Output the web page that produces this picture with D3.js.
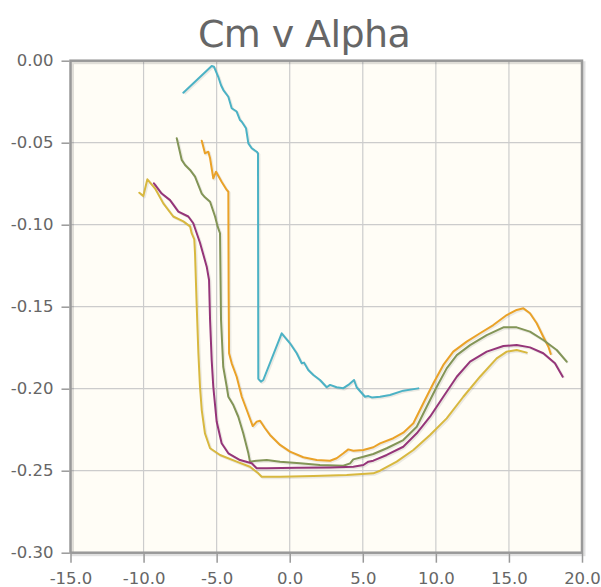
<!DOCTYPE html>
<html>
<head>
<meta charset="utf-8">
<script src="https://cdn.jsdelivr.net/npm/d3@7"></script>
<style>
  html, body { margin: 0; padding: 0; background: #ffffff; }
  svg { display: block; }
</style>
</head>
<body>
<svg id="chart" width="601" height="587"></svg>
<script>
// ---- data (alpha, Cm) ----
const title = "Cm v Alpha";
const xTicks = [-15, -10, -5, 0, 5, 10, 15, 20];
const yTicks = [0.00, -0.05, -0.10, -0.15, -0.20, -0.25, -0.30];
const seriesColors = ["#4bb2c5", "#eaa228", "#839557", "#953579", "#d8b83f"];

const cyan = [
  [-7.28,-0.0195],[-5.34,-0.0032],[-5.18,-0.0037],[-4.89,-0.0098],[-4.70,-0.0150],
  [-4.54,-0.0179],[-4.20,-0.0220],[-3.97,-0.0290],[-3.63,-0.0310],[-3.40,-0.0362],
  [-3.28,-0.0372],[-2.99,-0.0412],[-2.83,-0.0504],[-2.60,-0.0534],[-2.26,-0.0555],
  [-2.17,-0.0565],[-2.15,-0.1940],[-1.97,-0.1957],[-1.81,-0.1947],[-0.55,-0.1662],
  [0.02,-0.1723],[0.48,-0.1784],[0.82,-0.1845],[0.98,-0.1841],[1.27,-0.1886],
  [1.62,-0.1916],[2.07,-0.1947],[2.53,-0.1991],[2.76,-0.1977],[3.21,-0.1991],
  [3.67,-0.1997],[4.01,-0.1977],[4.40,-0.1947],[4.58,-0.1991],[5.15,-0.2049],
  [5.38,-0.2045],[5.61,-0.2053],[6.18,-0.2049],[6.86,-0.2038],[7.77,-0.2012],
  [8.80,-0.1998]
];
const orange = [
  [-6.02,-0.0488],[-5.80,-0.0565],[-5.57,-0.0555],[-5.45,-0.0595],[-5.23,-0.0717],
  [-5.04,-0.0677],[-4.66,-0.0738],[-4.31,-0.0788],[-4.20,-0.0799],[-4.18,-0.1400],
  [-4.15,-0.1784],[-3.97,-0.1845],[-3.63,-0.1927],[-3.28,-0.2049],[-2.94,-0.2130],
  [-2.53,-0.2228],[-2.26,-0.2201],[-2.03,-0.2195],[-1.69,-0.2241],[-1.35,-0.2282],
  [-0.66,-0.2343],[0.02,-0.2384],[0.93,-0.2418],[1.85,-0.2435],[2.76,-0.2439],
  [3.21,-0.2424],[3.67,-0.2394],[4.01,-0.2370],[4.35,-0.2378],[5.04,-0.2374],
  [5.72,-0.2357],[6.18,-0.2333],[7.09,-0.2302],[7.77,-0.2268],[8.46,-0.2211],
  [9.14,-0.2089],[9.83,-0.1967],[10.51,-0.1855],[11.19,-0.1774],[12.11,-0.1713],
  [13.02,-0.1662],[13.93,-0.1612],[14.85,-0.1551],[15.53,-0.1520],[15.99,-0.1510],
  [16.44,-0.1540],[16.90,-0.1601],[17.35,-0.1683],[17.70,-0.1744],[17.86,-0.1788]
];
const olive = [
  [-7.73,-0.0473],[-7.39,-0.0605],[-7.16,-0.0636],[-6.82,-0.0666],[-6.48,-0.0707],
  [-6.02,-0.0810],[-5.80,-0.0833],[-5.45,-0.0860],[-5.11,-0.0950],[-4.93,-0.1012],
  [-4.77,-0.1052],[-4.70,-0.1581],[-4.55,-0.1866],[-4.31,-0.1988],[-4.20,-0.2049],
  [-3.86,-0.2100],[-3.52,-0.2171],[-3.18,-0.2272],[-2.83,-0.2394],[-2.72,-0.2445],
  [-2.26,-0.2439],[-1.57,-0.2435],[-0.66,-0.2445],[0.71,-0.2455],[2.07,-0.2465],
  [3.67,-0.2470],[4.13,-0.2455],[4.35,-0.2431],[5.04,-0.2415],[5.72,-0.2398],
  [6.64,-0.2363],[7.77,-0.2313],[8.69,-0.2232],[9.37,-0.2110],[10.06,-0.1988],
  [10.74,-0.1876],[11.43,-0.1795],[12.34,-0.1734],[13.48,-0.1673],[14.62,-0.1626],
  [15.53,-0.1626],[16.44,-0.1652],[17.35,-0.1703],[18.27,-0.1764],[18.95,-0.1835]
];
const purple = [
  [-9.29,-0.0748],[-8.76,-0.0810],[-8.19,-0.0850],[-7.62,-0.0920],[-6.94,-0.0950],
  [-6.60,-0.0991],[-6.14,-0.1110],[-5.68,-0.1256],[-5.52,-0.1337],[-5.45,-0.1581],
  [-5.34,-0.1825],[-5.23,-0.1988],[-5.00,-0.2200],[-4.66,-0.2333],[-4.20,-0.2394],
  [-3.40,-0.2435],[-2.60,-0.2455],[-2.26,-0.2485],[-1.57,-0.2485],[0.48,-0.2482],
  [2.76,-0.2480],[4.35,-0.2476],[5.04,-0.2465],[5.38,-0.2445],[5.72,-0.2439],
  [6.64,-0.2404],[7.77,-0.2354],[8.69,-0.2272],[9.60,-0.2171],[10.51,-0.2049],
  [11.43,-0.1927],[12.34,-0.1835],[13.48,-0.1774],[14.62,-0.1740],[15.53,-0.1734],
  [16.44,-0.1748],[17.35,-0.1784],[18.15,-0.1845],[18.68,-0.1927]
];
const yellow = [
  [-10.29,-0.0805],[-10.02,-0.0825],[-9.74,-0.0723],[-9.22,-0.0778],[-8.65,-0.0870],
  [-7.97,-0.0950],[-7.28,-0.0980],[-6.82,-0.1010],[-6.71,-0.1052],[-6.53,-0.1090],
  [-6.48,-0.1174],[-6.37,-0.1480],[-6.25,-0.1784],[-6.14,-0.1988],[-6.02,-0.2130],
  [-5.80,-0.2272],[-5.45,-0.2363],[-4.77,-0.2404],[-3.63,-0.2445],[-2.72,-0.2476],
  [-2.15,-0.2516],[-1.92,-0.2537],[-0.66,-0.2537],[1.62,-0.2532],[3.90,-0.2526],
  [5.72,-0.2516],[6.18,-0.2500],[7.32,-0.2445],[8.46,-0.2374],[9.60,-0.2282],
  [10.74,-0.2181],[11.88,-0.2049],[13.02,-0.1927],[14.16,-0.1815],[14.85,-0.1774],
  [15.53,-0.1764],[16.22,-0.1780]
];
const seriesList = [cyan, orange, olive, purple, yellow];

// ---- layout ----
const svg = d3.select("#chart");
const pLeft = 70.5, pRight = 582, pTop = 60.7, pBottom = 552.7;
const x = d3.scaleLinear().domain([-15, 20]).range([pLeft, pRight]);
const y = d3.scaleLinear().domain([-0.30, 0.00]).range([pBottom, pTop]);

// title
svg.append("text")
  .attr("x", 304).attr("y", 46.5)
  .attr("text-anchor", "middle")
  .attr("font-family", "DejaVu Sans, sans-serif")
  .attr("font-size", 38)
  .attr("letter-spacing", "-0.6px")
  .attr("fill", "#666666")
  .text(title);

// plot background
svg.append("rect")
  .attr("x", pLeft).attr("y", pTop)
  .attr("width", pRight - pLeft).attr("height", pBottom - pTop)
  .attr("fill", "#fffdf6");

// grid
const grid = svg.append("g");
grid.selectAll("line.gx").data(xTicks.slice(1, -1)).join("line")
  .attr("x1", d => x(d)).attr("x2", d => x(d))
  .attr("y1", pTop).attr("y2", pBottom)
  .attr("stroke", "#cccccc").attr("stroke-width", 1.2);
grid.selectAll("line.gy").data(yTicks.slice(1, -1)).join("line")
  .attr("x1", pLeft).attr("x2", pRight)
  .attr("y1", d => y(d)).attr("y2", d => y(d))
  .attr("stroke", "#cccccc").attr("stroke-width", 1.2);

// clip for series
svg.append("clipPath").attr("id", "clip")
  .append("rect").attr("x", pLeft).attr("y", pTop)
  .attr("width", pRight - pLeft).attr("height", pBottom - pTop);

const line = d3.line().x(d => x(d[0])).y(d => y(d[1]));
const plot = svg.append("g").attr("clip-path", "url(#clip)");
seriesList.forEach((s, i) => {
  plot.append("path").datum(s)
    .attr("d", line)
    .attr("transform", "translate(1.2,1.2)")
    .attr("fill", "none")
    .attr("stroke", "rgba(0,0,0,0.08)")
    .attr("stroke-width", 2.5)
    .attr("stroke-linejoin", "round");
});
seriesList.forEach((s, i) => {
  plot.append("path").datum(s)
    .attr("d", line)
    .attr("fill", "none")
    .attr("stroke", seriesColors[i])
    .attr("stroke-width", 2)
    .attr("stroke-linejoin", "round")
    .attr("stroke-linecap", "round");
});

// frame shadow
svg.append("rect")
  .attr("x", pLeft + 2).attr("y", pTop + 2)
  .attr("width", pRight - pLeft).attr("height", pBottom - pTop)
  .attr("fill", "none")
  .attr("stroke", "rgba(0,0,0,0.12)")
  .attr("stroke-width", 3);
// frame
svg.append("rect")
  .attr("x", pLeft).attr("y", pTop)
  .attr("width", pRight - pLeft).attr("height", pBottom - pTop)
  .attr("fill", "none")
  .attr("stroke", "#999999")
  .attr("stroke-width", 2.5);

// axes (hyphen-minus like the reference)
const fmt = p => d => d3.format(p)(d).replace("\u2212", "-");
const yAxis = d3.axisLeft(y).tickValues(yTicks)
  .tickFormat(fmt(".2f")).tickSize(8).tickPadding(8);
const xAxis = d3.axisBottom(x).tickValues(xTicks)
  .tickFormat(fmt(".1f")).tickSize(9).tickPadding(10);

const ya = svg.append("g").attr("transform", `translate(${pLeft - 1},0)`).call(yAxis);
const xa = svg.append("g").attr("transform", `translate(0,${pBottom + 1})`).call(xAxis);
[ya, xa].forEach(a => {
  a.select(".domain").remove();
  a.selectAll(".tick line").attr("stroke", "#999999").attr("stroke-width", 1.5);
  a.selectAll(".tick text")
    .attr("fill", "#666666")
    .attr("font-family", "DejaVu Sans, sans-serif")
    .attr("font-size", 16.5);
});
xa.selectAll(".tick text").attr("dy", "0.71em");
</script>
</body>
</html>
